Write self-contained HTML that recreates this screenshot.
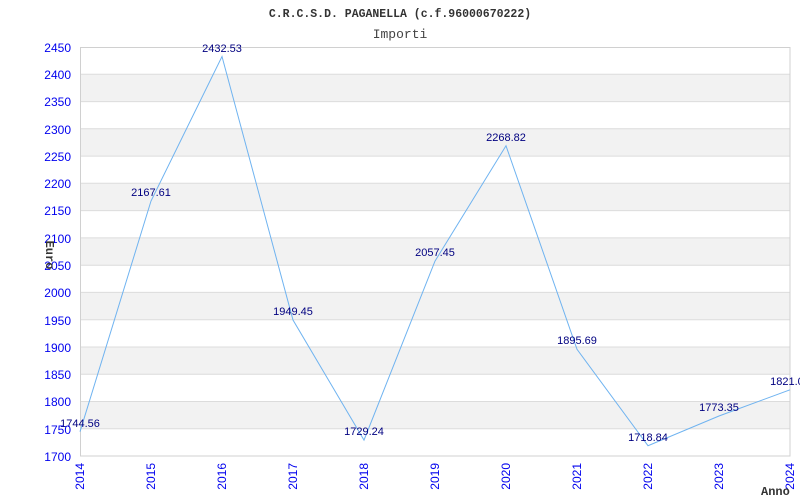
<!DOCTYPE html>
<html><head><style>body{margin:0;background:#fff}svg{display:block}</style></head><body>
<svg width="800" height="500" xmlns="http://www.w3.org/2000/svg">
<rect width="800" height="500" fill="#fff"/>
<g fill="#f2f2f2">
<rect x="80" y="74.3" width="710" height="27.3"/>
<rect x="80" y="128.8" width="710" height="27.3"/>
<rect x="80" y="183.3" width="710" height="27.3"/>
<rect x="80" y="237.9" width="710" height="27.3"/>
<rect x="80" y="292.4" width="710" height="27.3"/>
<rect x="80" y="347.0" width="710" height="27.3"/>
<rect x="80" y="401.5" width="710" height="27.3"/>
</g>
<g stroke="#dcdcdc" stroke-width="1">
<line x1="80" x2="790" y1="74.3" y2="74.3"/><line x1="80" x2="790" y1="101.6" y2="101.6"/>
<line x1="80" x2="790" y1="128.8" y2="128.8"/><line x1="80" x2="790" y1="156.1" y2="156.1"/>
<line x1="80" x2="790" y1="183.3" y2="183.3"/><line x1="80" x2="790" y1="210.6" y2="210.6"/>
<line x1="80" x2="790" y1="237.9" y2="237.9"/><line x1="80" x2="790" y1="265.2" y2="265.2"/>
<line x1="80" x2="790" y1="292.4" y2="292.4"/><line x1="80" x2="790" y1="319.7" y2="319.7"/>
<line x1="80" x2="790" y1="347.0" y2="347.0"/><line x1="80" x2="790" y1="374.3" y2="374.3"/>
<line x1="80" x2="790" y1="401.5" y2="401.5"/><line x1="80" x2="790" y1="428.8" y2="428.8"/>
</g>
<rect x="80.5" y="47.5" width="709.5" height="408.5" fill="none" stroke="#d0d0d0"/>
<polyline fill="none" stroke="#6fb3f0" stroke-width="1" points="80,431.7 151,201 222,56.5 293,320 364,440.1 435,261.1 506,145.8 577,349.3 648,445.7 719,416 790,389.8"/>
<g font-family="Liberation Sans, sans-serif" font-size="11" fill="#000080" text-anchor="middle">
<text x="80" y="427">1744.56</text>
<text x="151" y="196">2167.61</text>
<text x="222" y="52">2432.53</text>
<text x="293" y="315">1949.45</text>
<text x="364" y="435">1729.24</text>
<text x="435" y="256">2057.45</text>
<text x="506" y="141">2268.82</text>
<text x="577" y="344">1895.69</text>
<text x="648" y="441">1718.84</text>
<text x="719" y="411">1773.35</text>
<text x="790" y="385">1821.05</text>
</g>
<g font-family="Liberation Sans, sans-serif" font-size="12" fill="#0000ee" text-anchor="end">
<text x="71" y="52">2450</text><text x="71" y="79">2400</text><text x="71" y="106">2350</text>
<text x="71" y="134">2300</text><text x="71" y="161">2250</text><text x="71" y="188">2200</text>
<text x="71" y="215">2150</text><text x="71" y="243">2100</text><text x="71" y="270">2050</text>
<text x="71" y="297">2000</text><text x="71" y="325">1950</text><text x="71" y="352">1900</text>
<text x="71" y="379">1850</text><text x="71" y="406">1800</text><text x="71" y="434">1750</text>
<text x="71" y="461">1700</text>
</g>
<g font-family="Liberation Sans, sans-serif" font-size="12" fill="#0000ee" text-anchor="end">
<text transform="translate(84,463) rotate(-90)">2014</text>
<text transform="translate(155,463) rotate(-90)">2015</text>
<text transform="translate(226,463) rotate(-90)">2016</text>
<text transform="translate(297,463) rotate(-90)">2017</text>
<text transform="translate(368,463) rotate(-90)">2018</text>
<text transform="translate(439,463) rotate(-90)">2019</text>
<text transform="translate(510,463) rotate(-90)">2020</text>
<text transform="translate(581,463) rotate(-90)">2021</text>
<text transform="translate(652,463) rotate(-90)">2022</text>
<text transform="translate(723,463) rotate(-90)">2023</text>
<text transform="translate(794,463) rotate(-90)">2024</text>
</g>
<text x="400" y="17" text-anchor="middle" font-family="Liberation Mono, monospace" font-size="11.5" font-weight="bold" fill="#333">C.R.C.S.D. PAGANELLA (c.f.96000670222)</text>
<text x="400" y="38" text-anchor="middle" font-family="Liberation Mono, monospace" font-size="13" fill="#444">Importi</text>
<text transform="translate(46,255) rotate(90)" text-anchor="middle" font-family="Liberation Mono, monospace" font-size="12" font-weight="bold" fill="#333">Euro</text>
<text x="761" y="495" font-family="Liberation Mono, monospace" font-size="12" font-weight="bold" fill="#333">Anno</text>
</svg>
</body></html>
